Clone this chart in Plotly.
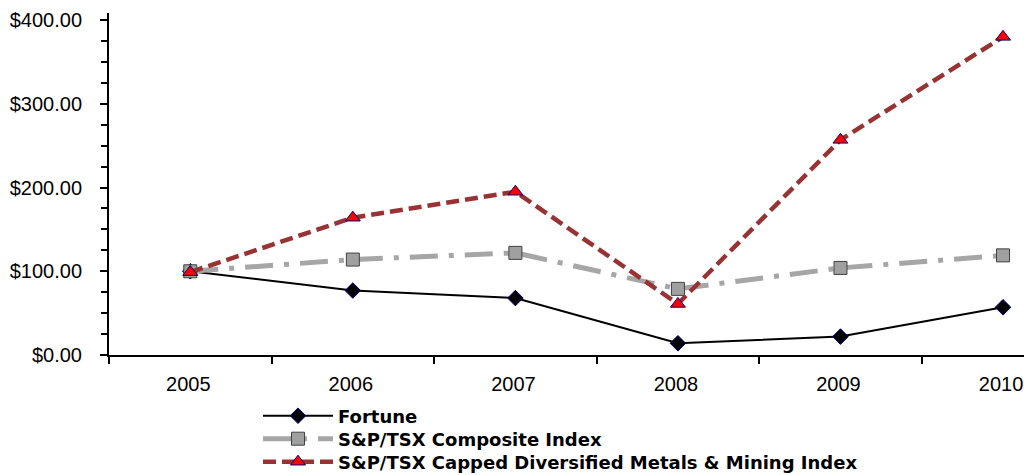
import plotly.graph_objects as go

years = ["2005", "2006", "2007", "2008", "2009", "2010"]
fortune = [100, 77, 68, 14, 22, 57]
composite = [100, 114, 122, 79, 104, 119]
metals = [99, 164, 195, 61, 257, 380]

y_ticks = [0, 100, 200, 300, 400]
y_tick_labels = ["$0.00", "$100.00", "$200.00", "$300.00", "$400.00"]

xpos = list(range(len(years)))

FONT = "Liberation Sans, Arial, sans-serif"
LEG_FONT = "DejaVu Sans, sans-serif"

fig = go.Figure()
fig.add_trace(go.Scatter(
    x=xpos, y=fortune, name="Fortune", mode="lines+markers",
    line=dict(color="#000000", width=2),
    marker=dict(symbol="diamond", size=12, color="#000000",
                line=dict(color="#000080", width=1)),
    legend="legend",
))
fig.add_trace(go.Scatter(
    x=xpos, y=composite, name="S&P/TSX Composite Index", mode="lines+markers",
    line=dict(color="#a6a6a6", width=5, dash="28px,11px,5px,11px"),
    marker=dict(symbol="square", size=13, color="#a0a0a0",
                line=dict(color="#404040", width=1)),
    legend="legend2",
))
fig.add_trace(go.Scatter(
    x=xpos, y=metals, name="S&P/TSX Capped Diversified Metals & Mining Index",
    mode="lines+markers",
    line=dict(color="#993333", width=4.5, dash="13px,6px"),
    marker=dict(symbol="triangle-up", size=13, color="#ff0000",
                line=dict(color="#000080", width=1)),
    legend="legend3",
))

PLOT_L = 109
PLOT_W = 1024 - 109


def leg(ycenter):
    return dict(
        xref="paper", yref="container",
        x=(258 - PLOT_L) / PLOT_W, y=1 - ycenter / 475,
        xanchor="left", yanchor="middle",
        orientation="v", itemwidth=70,
        font=dict(family=LEG_FONT, size=18, color="#000000", weight="bold"),
        bgcolor="rgba(0,0,0,0)", itemclick=False, itemdoubleclick=False,
    )


fig.update_layout(
    width=1024, height=475,
    margin=dict(l=PLOT_L, r=0, t=13, b=119.5),
    paper_bgcolor="white", plot_bgcolor="white",
    font=dict(family=FONT, color="#000000", size=20),
    showlegend=True,
    legend=leg(416),
    legend2=leg(439),
    legend3=leg(462),
    xaxis=dict(
        range=[-0.5, 5.129],
        tickmode="array", tickvals=xpos, ticktext=years,
        ticks="", showgrid=False, zeroline=False,
        showline=True, linecolor="#000000", linewidth=2,
        ticklabelstandoff=10, ticklabeloverflow="allow", ticklabelshift=-2,
        tickfont=dict(family=FONT, size=20, color="#000000"),
        minor=dict(tickmode="array", tickvals=[-0.5, 0.5, 1.5, 2.5, 3.5, 4.5],
                   ticks="outside", ticklen=7, tickcolor="#000000", tickwidth=1.5,
                   showgrid=False),
    ),
    yaxis=dict(
        range=[0, 408.5],
        tickmode="array", tickvals=y_ticks, ticktext=y_tick_labels,
        ticks="outside", ticklen=7, tickcolor="#000000", tickwidth=1.5,
        showgrid=False, zeroline=False,
        showline=True, linecolor="#000000", linewidth=2,
        ticklabelstandoff=14,
        tickfont=dict(family=FONT, size=20, color="#000000"),
        minor=dict(tickmode="linear", tick0=0, dtick=25, ticks="outside",
                   ticklen=6, tickcolor="#000000", tickwidth=1.5, showgrid=False),
    ),
)

fig.write_html("out.html",
               config={"displayModeBar": False},
               post_script="document.body.style.margin='0';"
                           "document.body.style.overflow='hidden';")
